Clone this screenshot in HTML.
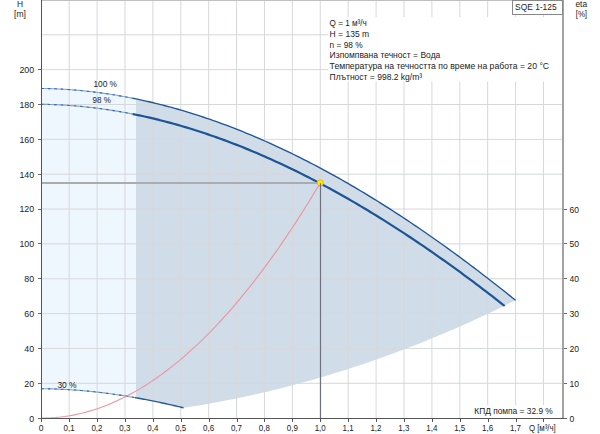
<!DOCTYPE html>
<html><head><meta charset="utf-8"><style>
html,body{margin:0;padding:0;background:#fff;width:600px;height:434px;overflow:hidden;font-family:"Liberation Sans",sans-serif;}
</style></head><body>
<svg width="600" height="434" viewBox="0 0 600 434" style="position:absolute;left:0;top:0">
<rect width="600" height="434" fill="#fff"/>
<path d="M41.28,88.44 L42.89,88.46 L44.49,88.49 L46.10,88.52 L47.70,88.56 L49.31,88.61 L50.91,88.66 L52.52,88.71 L54.12,88.77 L55.73,88.84 L57.33,88.91 L58.94,88.99 L60.55,89.07 L62.15,89.16 L63.76,89.25 L65.36,89.35 L66.97,89.45 L68.57,89.56 L70.18,89.68 L71.78,89.80 L73.39,89.92 L74.99,90.05 L76.60,90.19 L78.20,90.33 L79.81,90.48 L81.42,90.63 L83.02,90.79 L84.63,90.95 L86.23,91.12 L87.84,91.29 L89.44,91.47 L91.05,91.65 L92.65,91.84 L94.26,92.04 L95.86,92.24 L97.47,92.44 L99.08,92.65 L100.68,92.87 L102.29,93.09 L103.89,93.31 L105.50,93.55 L107.10,93.78 L108.71,94.02 L110.31,94.27 L111.92,94.52 L113.52,94.78 L115.13,95.04 L116.73,95.31 L118.34,95.58 L119.95,95.86 L121.55,96.14 L123.16,96.43 L124.76,96.72 L126.37,97.02 L127.97,97.32 L129.58,97.63 L131.18,97.94 L132.79,98.26 L134.39,98.58 L136.00,98.91 L136.00,397.78 L134.39,397.49 L132.79,397.21 L131.18,396.94 L129.58,396.67 L127.97,396.40 L126.37,396.14 L124.76,395.88 L123.16,395.63 L121.55,395.38 L119.95,395.13 L118.34,394.89 L116.73,394.65 L115.13,394.42 L113.52,394.19 L111.92,393.96 L110.31,393.74 L108.71,393.53 L107.10,393.32 L105.50,393.11 L103.89,392.91 L102.29,392.71 L100.68,392.51 L99.08,392.32 L97.47,392.14 L95.86,391.96 L94.26,391.78 L92.65,391.61 L91.05,391.45 L89.44,391.29 L87.84,391.13 L86.23,390.98 L84.63,390.83 L83.02,390.69 L81.42,390.55 L79.81,390.42 L78.20,390.29 L76.60,390.16 L74.99,390.05 L73.39,389.93 L71.78,389.82 L70.18,389.72 L68.57,389.62 L66.97,389.53 L65.36,389.44 L63.76,389.36 L62.15,389.28 L60.55,389.21 L58.94,389.14 L57.33,389.08 L55.73,389.02 L54.12,388.97 L52.52,388.92 L50.91,388.88 L49.31,388.85 L47.70,388.82 L46.10,388.79 L44.49,388.77 L42.89,388.76 L41.28,388.75 Z" fill="#eef6fe"/>
<path d="M136.00,98.91 L142.43,100.28 L148.87,101.73 L155.30,103.25 L161.73,104.86 L168.17,106.54 L174.60,108.31 L181.03,110.15 L187.47,112.07 L193.90,114.06 L200.34,116.13 L206.77,118.28 L213.20,120.50 L219.64,122.80 L226.07,125.17 L232.50,127.62 L238.94,130.14 L245.37,132.73 L251.80,135.39 L258.24,138.13 L264.67,140.93 L271.10,143.81 L277.54,146.76 L283.97,149.77 L290.41,152.86 L296.84,156.01 L303.27,159.23 L309.71,162.52 L316.14,165.88 L322.57,169.30 L329.01,172.79 L335.44,176.34 L341.87,179.96 L348.31,183.65 L354.74,187.39 L361.17,191.21 L367.61,195.08 L374.04,199.01 L380.48,203.01 L386.91,207.07 L393.34,211.19 L399.78,215.37 L406.21,219.61 L412.64,223.91 L419.08,228.27 L425.51,232.68 L431.94,237.15 L438.38,241.68 L444.81,246.27 L451.24,250.91 L457.68,255.61 L464.11,260.37 L470.55,265.18 L476.98,270.04 L483.41,274.95 L489.85,279.92 L496.28,284.94 L502.71,290.02 L509.15,295.14 L515.58,300.32 L515.58,300.32 L509.95,303.10 L504.33,305.86 L498.70,308.58 L493.07,311.26 L487.44,313.92 L481.82,316.54 L476.19,319.12 L470.56,321.68 L464.93,324.20 L459.31,326.69 L453.68,329.14 L448.05,331.56 L442.43,333.95 L436.80,336.30 L431.17,338.62 L425.54,340.91 L419.92,343.16 L414.29,345.39 L408.66,347.57 L403.03,349.73 L397.41,351.85 L391.78,353.94 L386.15,355.99 L380.53,358.01 L374.90,360.00 L369.27,361.96 L363.64,363.88 L358.02,365.77 L352.39,367.62 L346.76,369.45 L341.13,371.23 L335.51,372.99 L329.88,374.71 L324.25,376.40 L318.62,378.06 L313.00,379.68 L307.37,381.27 L301.74,382.82 L296.12,384.35 L290.49,385.84 L284.86,387.29 L279.23,388.72 L273.61,390.11 L267.98,391.46 L262.35,392.79 L256.72,394.08 L251.10,395.33 L245.47,396.56 L239.84,397.75 L234.22,398.90 L228.59,400.03 L222.96,401.12 L217.33,402.17 L211.71,403.20 L206.08,404.19 L200.45,405.15 L194.82,406.07 L189.20,406.96 L183.57,407.82 L183.57,407.82 L182.76,407.62 L181.96,407.43 L181.15,407.23 L180.34,407.04 L179.54,406.85 L178.73,406.66 L177.93,406.47 L177.12,406.28 L176.31,406.09 L175.51,405.90 L174.70,405.72 L173.89,405.53 L173.09,405.34 L172.28,405.16 L171.48,404.98 L170.67,404.79 L169.86,404.61 L169.06,404.43 L168.25,404.25 L167.44,404.07 L166.64,403.89 L165.83,403.71 L165.03,403.54 L164.22,403.36 L163.41,403.19 L162.61,403.01 L161.80,402.84 L160.99,402.67 L160.19,402.49 L159.38,402.32 L158.58,402.15 L157.77,401.98 L156.96,401.82 L156.16,401.65 L155.35,401.48 L154.54,401.32 L153.74,401.15 L152.93,400.99 L152.13,400.83 L151.32,400.67 L150.51,400.51 L149.71,400.35 L148.90,400.19 L148.09,400.03 L147.29,399.87 L146.48,399.72 L145.68,399.56 L144.87,399.41 L144.06,399.25 L143.26,399.10 L142.45,398.95 L141.64,398.80 L140.84,398.65 L140.03,398.50 L139.23,398.36 L138.42,398.21 L137.61,398.06 L136.81,397.92 L136.00,397.78 Z" fill="#d0dce8"/>
<g stroke="#d7d8db" stroke-width="1"><line x1="69.18" y1="1" x2="69.18" y2="418" /><line x1="97.08" y1="1" x2="97.08" y2="418" /><line x1="124.98" y1="1" x2="124.98" y2="418" /><line x1="152.88" y1="1" x2="152.88" y2="418" /><line x1="180.78" y1="1" x2="180.78" y2="418" /><line x1="208.68" y1="1" x2="208.68" y2="418" /><line x1="236.58" y1="1" x2="236.58" y2="418" /><line x1="264.48" y1="1" x2="264.48" y2="418" /><line x1="292.38" y1="1" x2="292.38" y2="418" /><line x1="320.28" y1="1" x2="320.28" y2="418" /><line x1="348.18" y1="1" x2="348.18" y2="418" /><line x1="376.08" y1="1" x2="376.08" y2="418" /><line x1="403.98" y1="1" x2="403.98" y2="418" /><line x1="431.88" y1="1" x2="431.88" y2="418" /><line x1="459.78" y1="1" x2="459.78" y2="418" /><line x1="487.68" y1="1" x2="487.68" y2="418" /><line x1="515.58" y1="1" x2="515.58" y2="418" /><line x1="543.48" y1="1" x2="543.48" y2="418" /><line x1="42" y1="383.30" x2="562" y2="383.30" /><line x1="42" y1="348.45" x2="562" y2="348.45" /><line x1="42" y1="313.60" x2="562" y2="313.60" /><line x1="42" y1="278.75" x2="562" y2="278.75" /><line x1="42" y1="243.90" x2="562" y2="243.90" /><line x1="42" y1="209.05" x2="562" y2="209.05" /><line x1="42" y1="174.20" x2="562" y2="174.20" /><line x1="42" y1="139.35" x2="562" y2="139.35" /><line x1="42" y1="104.50" x2="562" y2="104.50" /><line x1="42" y1="69.65" x2="562" y2="69.65" /><line x1="42" y1="34.80" x2="562" y2="34.80" /><line x1="42" y1="-0.05" x2="562" y2="-0.05" /></g>
<path d="M41.28,88.44 L42.85,88.46 L44.43,88.49 L46.00,88.52 L47.57,88.56 L49.15,88.60 L50.72,88.65 L52.29,88.70 L53.87,88.76 L55.44,88.82 L57.01,88.89 L58.59,88.97 L60.16,89.05 L61.74,89.13 L63.31,89.22 L64.88,89.32 L66.46,89.42 L68.03,89.52 L69.60,89.63 L71.18,89.75 L72.75,89.87 L74.32,90.00 L75.90,90.13 L77.47,90.26 L79.04,90.41 L80.62,90.55 L82.19,90.70 L83.76,90.86 L85.34,91.02 L86.91,91.19 L88.48,91.36 L90.06,91.54 L91.63,91.72 L93.21,91.91 L94.78,92.10 L96.35,92.30 L97.93,92.50 L99.50,92.71 L101.07,92.92 L102.65,93.14 L104.22,93.36 L105.79,93.59 L107.37,93.82 L108.94,94.06 L110.51,94.30 L112.09,94.55 L113.66,94.80 L115.23,95.06 L116.81,95.32 L118.38,95.59 L119.95,95.86 L121.53,96.14 L123.10,96.42 L124.68,96.70 L126.25,97.00 L127.82,97.29 L129.40,97.59 L130.97,97.90 L132.54,98.21 L134.12,98.53" fill="none" stroke="#85a4ce" stroke-width="1.1"/>
<path d="M41.28,88.44 L42.85,88.46 L44.43,88.49 L46.00,88.52 L47.57,88.56 L49.15,88.60 L50.72,88.65 L52.29,88.70 L53.87,88.76 L55.44,88.82 L57.01,88.89 L58.59,88.97 L60.16,89.05 L61.74,89.13 L63.31,89.22 L64.88,89.32 L66.46,89.42 L68.03,89.52 L69.60,89.63 L71.18,89.75 L72.75,89.87 L74.32,90.00 L75.90,90.13 L77.47,90.26 L79.04,90.41 L80.62,90.55 L82.19,90.70 L83.76,90.86 L85.34,91.02 L86.91,91.19 L88.48,91.36 L90.06,91.54 L91.63,91.72 L93.21,91.91 L94.78,92.10 L96.35,92.30 L97.93,92.50 L99.50,92.71 L101.07,92.92 L102.65,93.14 L104.22,93.36 L105.79,93.59 L107.37,93.82 L108.94,94.06 L110.51,94.30 L112.09,94.55 L113.66,94.80 L115.23,95.06 L116.81,95.32 L118.38,95.59 L119.95,95.86 L121.53,96.14 L123.10,96.42 L124.68,96.70 L126.25,97.00 L127.82,97.29 L129.40,97.59 L130.97,97.90 L132.54,98.21 L134.12,98.53" fill="none" stroke="#3a69a6" stroke-width="1.1" stroke-dasharray="2.5 4"/>
<path d="M41.28,104.28 L42.85,104.30 L44.43,104.33 L46.00,104.36 L47.57,104.40 L49.15,104.44 L50.72,104.49 L52.29,104.54 L53.87,104.60 L55.44,104.66 L57.01,104.73 L58.59,104.80 L60.16,104.88 L61.74,104.97 L63.31,105.05 L64.88,105.15 L66.46,105.25 L68.03,105.35 L69.60,105.46 L71.18,105.58 L72.75,105.70 L74.32,105.82 L75.90,105.95 L77.47,106.09 L79.04,106.23 L80.62,106.38 L82.19,106.53 L83.76,106.68 L85.34,106.84 L86.91,107.01 L88.48,107.18 L90.06,107.36 L91.63,107.54 L93.21,107.72 L94.78,107.92 L96.35,108.11 L97.93,108.31 L99.50,108.52 L101.07,108.73 L102.65,108.95 L104.22,109.17 L105.79,109.40 L107.37,109.63 L108.94,109.86 L110.51,110.10 L112.09,110.35 L113.66,110.60 L115.23,110.86 L116.81,111.12 L118.38,111.38 L119.95,111.65 L121.53,111.93 L123.10,112.21 L124.68,112.50 L126.25,112.79 L127.82,113.08 L129.40,113.38 L130.97,113.69 L132.54,114.00 L134.12,114.31" fill="none" stroke="#85a4ce" stroke-width="1.1"/>
<path d="M41.28,104.28 L42.85,104.30 L44.43,104.33 L46.00,104.36 L47.57,104.40 L49.15,104.44 L50.72,104.49 L52.29,104.54 L53.87,104.60 L55.44,104.66 L57.01,104.73 L58.59,104.80 L60.16,104.88 L61.74,104.97 L63.31,105.05 L64.88,105.15 L66.46,105.25 L68.03,105.35 L69.60,105.46 L71.18,105.58 L72.75,105.70 L74.32,105.82 L75.90,105.95 L77.47,106.09 L79.04,106.23 L80.62,106.38 L82.19,106.53 L83.76,106.68 L85.34,106.84 L86.91,107.01 L88.48,107.18 L90.06,107.36 L91.63,107.54 L93.21,107.72 L94.78,107.92 L96.35,108.11 L97.93,108.31 L99.50,108.52 L101.07,108.73 L102.65,108.95 L104.22,109.17 L105.79,109.40 L107.37,109.63 L108.94,109.86 L110.51,110.10 L112.09,110.35 L113.66,110.60 L115.23,110.86 L116.81,111.12 L118.38,111.38 L119.95,111.65 L121.53,111.93 L123.10,112.21 L124.68,112.50 L126.25,112.79 L127.82,113.08 L129.40,113.38 L130.97,113.69 L132.54,114.00 L134.12,114.31" fill="none" stroke="#3a69a6" stroke-width="1.1" stroke-dasharray="2.5 4"/>
<path d="M41.28,388.75 L42.89,388.76 L44.49,388.77 L46.10,388.79 L47.71,388.82 L49.32,388.85 L50.92,388.88 L52.53,388.92 L54.14,388.97 L55.75,389.02 L57.35,389.08 L58.96,389.14 L60.57,389.21 L62.18,389.28 L63.78,389.36 L65.39,389.44 L67.00,389.53 L68.61,389.63 L70.21,389.72 L71.82,389.83 L73.43,389.94 L75.04,390.05 L76.64,390.17 L78.25,390.29 L79.86,390.42 L81.46,390.55 L83.07,390.69 L84.68,390.83 L86.29,390.98 L87.89,391.13 L89.50,391.29 L91.11,391.45 L92.72,391.62 L94.32,391.79 L95.93,391.97 L97.54,392.15 L99.15,392.33 L100.75,392.52 L102.36,392.72 L103.97,392.92 L105.58,393.12 L107.18,393.33 L108.79,393.54 L110.40,393.76 L112.01,393.98 L113.61,394.20 L115.22,394.43 L116.83,394.67 L118.43,394.90 L120.04,395.15 L121.65,395.39 L123.26,395.64 L124.86,395.90 L126.47,396.16 L128.08,396.42 L129.69,396.69 L131.29,396.96 L132.90,397.23 L134.51,397.51 L136.12,397.80" fill="none" stroke="#85a4ce" stroke-width="1.1"/>
<path d="M41.28,388.75 L42.89,388.76 L44.49,388.77 L46.10,388.79 L47.71,388.82 L49.32,388.85 L50.92,388.88 L52.53,388.92 L54.14,388.97 L55.75,389.02 L57.35,389.08 L58.96,389.14 L60.57,389.21 L62.18,389.28 L63.78,389.36 L65.39,389.44 L67.00,389.53 L68.61,389.63 L70.21,389.72 L71.82,389.83 L73.43,389.94 L75.04,390.05 L76.64,390.17 L78.25,390.29 L79.86,390.42 L81.46,390.55 L83.07,390.69 L84.68,390.83 L86.29,390.98 L87.89,391.13 L89.50,391.29 L91.11,391.45 L92.72,391.62 L94.32,391.79 L95.93,391.97 L97.54,392.15 L99.15,392.33 L100.75,392.52 L102.36,392.72 L103.97,392.92 L105.58,393.12 L107.18,393.33 L108.79,393.54 L110.40,393.76 L112.01,393.98 L113.61,394.20 L115.22,394.43 L116.83,394.67 L118.43,394.90 L120.04,395.15 L121.65,395.39 L123.26,395.64 L124.86,395.90 L126.47,396.16 L128.08,396.42 L129.69,396.69 L131.29,396.96 L132.90,397.23 L134.51,397.51 L136.12,397.80" fill="none" stroke="#3a69a6" stroke-width="1.1" stroke-dasharray="2.5 4"/>
<path d="M133.00,98.30 L136.21,98.96 L139.43,99.63 L142.64,100.33 L145.86,101.04 L149.07,101.77 L152.29,102.53 L155.50,103.30 L158.72,104.10 L161.93,104.91 L165.15,105.74 L168.36,106.60 L171.58,107.47 L174.79,108.36 L178.01,109.27 L181.22,110.20 L184.44,111.15 L187.65,112.12 L190.87,113.11 L194.08,114.12 L197.30,115.15 L200.51,116.19 L203.73,117.26 L206.94,118.34 L210.16,119.44 L213.37,120.56 L216.59,121.70 L219.80,122.86 L223.02,124.04 L226.23,125.24 L229.45,126.45 L232.66,127.68 L235.88,128.93 L239.09,130.20 L242.31,131.49 L245.52,132.79 L248.74,134.11 L251.95,135.45 L255.17,136.81 L258.38,138.19 L261.60,139.58 L264.81,141.00 L268.03,142.43 L271.24,143.87 L274.46,145.34 L277.67,146.82 L280.89,148.32 L284.10,149.83 L287.32,151.37 L290.53,152.92 L293.75,154.49 L296.96,156.07 L300.18,157.68 L303.39,159.29 L306.61,160.93 L309.82,162.58 L313.04,164.25 L316.25,165.94 L319.47,167.64 L322.68,169.36 L325.90,171.10 L329.11,172.85 L332.33,174.62 L335.54,176.40 L338.76,178.20 L341.97,180.02 L345.19,181.85 L348.40,183.70 L351.62,185.57 L354.83,187.45 L358.05,189.34 L361.26,191.26 L364.48,193.19 L367.69,195.13 L370.91,197.09 L374.12,199.06 L377.34,201.05 L380.55,203.06 L383.77,205.08 L386.98,207.12 L390.20,209.17 L393.41,211.23 L396.63,213.32 L399.84,215.41 L403.06,217.52 L406.27,219.65 L409.49,221.79 L412.70,223.95 L415.92,226.12 L419.13,228.30 L422.35,230.50 L425.56,232.72 L428.78,234.94 L431.99,237.19 L435.21,239.44 L438.42,241.72 L441.64,244.00 L444.85,246.30 L448.07,248.61 L451.28,250.94 L454.50,253.28 L457.71,255.64 L460.93,258.01 L464.14,260.39 L467.36,262.78 L470.57,265.19 L473.79,267.62 L477.00,270.05 L480.22,272.50 L483.43,274.97 L486.65,277.44 L489.86,279.93 L493.08,282.44 L496.29,284.95 L499.51,287.48 L502.72,290.02 L505.94,292.58 L509.15,295.14 L512.37,297.72 L515.58,300.32" fill="none" stroke="#1f5593" stroke-width="1.35"/>
<path d="M133.00,114.09 L136.12,114.72 L139.25,115.37 L142.37,116.04 L145.49,116.73 L148.62,117.43 L151.74,118.16 L154.86,118.91 L157.99,119.67 L161.11,120.45 L164.23,121.25 L167.36,122.07 L170.48,122.91 L173.60,123.76 L176.73,124.64 L179.85,125.53 L182.97,126.44 L186.10,127.37 L189.22,128.31 L192.34,129.28 L195.47,130.26 L198.59,131.26 L201.71,132.28 L204.84,133.31 L207.96,134.37 L211.08,135.44 L214.21,136.53 L217.33,137.63 L220.45,138.75 L223.58,139.89 L226.70,141.05 L229.82,142.23 L232.95,143.42 L236.07,144.63 L239.19,145.85 L242.32,147.10 L245.44,148.36 L248.56,149.64 L251.68,150.93 L254.81,152.24 L257.93,153.57 L261.05,154.91 L264.18,156.27 L267.30,157.65 L270.42,159.04 L273.55,160.45 L276.67,161.88 L279.79,163.32 L282.92,164.78 L286.04,166.25 L289.16,167.74 L292.29,169.25 L295.41,170.77 L298.53,172.31 L301.66,173.87 L304.78,175.44 L307.90,177.02 L311.03,178.63 L314.15,180.24 L317.27,181.88 L320.40,183.52 L323.52,185.19 L326.64,186.87 L329.77,188.56 L332.89,190.27 L336.01,192.00 L339.14,193.73 L342.26,195.49 L345.38,197.26 L348.51,199.04 L351.63,200.84 L354.75,202.66 L357.88,204.49 L361.00,206.33 L364.12,208.19 L367.25,210.06 L370.37,211.95 L373.49,213.85 L376.62,215.77 L379.74,217.70 L382.86,219.65 L385.99,221.61 L389.11,223.58 L392.23,225.57 L395.36,227.57 L398.48,229.58 L401.60,231.61 L404.73,233.66 L407.85,235.71 L410.97,237.78 L414.10,239.87 L417.22,241.97 L420.34,244.08 L423.47,246.20 L426.59,248.34 L429.71,250.49 L432.84,252.66 L435.96,254.84 L439.08,257.03 L442.21,259.23 L445.33,261.45 L448.45,263.68 L451.58,265.93 L454.70,268.18 L457.82,270.45 L460.95,272.73 L464.07,275.03 L467.19,277.34 L470.31,279.66 L473.44,281.99 L476.56,284.33 L479.68,286.69 L482.81,289.06 L485.93,291.44 L489.05,293.84 L492.18,296.24 L495.30,298.66 L498.42,301.09 L501.55,303.53 L504.67,305.99" fill="none" stroke="#1c5596" stroke-width="2.2"/>
<path d="M135.00,397.60 L136.25,397.82 L137.49,398.04 L138.74,398.27 L139.98,398.49 L141.23,398.72 L142.47,398.95 L143.72,399.19 L144.96,399.42 L146.21,399.66 L147.45,399.90 L148.70,400.15 L149.94,400.39 L151.19,400.64 L152.44,400.89 L153.68,401.14 L154.93,401.40 L156.17,401.65 L157.42,401.91 L158.66,402.17 L159.91,402.43 L161.15,402.70 L162.40,402.97 L163.64,403.24 L164.89,403.51 L166.13,403.78 L167.38,404.06 L168.63,404.33 L169.87,404.61 L171.12,404.89 L172.36,405.18 L173.61,405.46 L174.85,405.75 L176.10,406.04 L177.34,406.33 L178.59,406.63 L179.83,406.92 L181.08,407.22 L182.32,407.52 L183.57,407.82" fill="none" stroke="#255a98" stroke-width="1.4"/>
<line x1="42" y1="183" x2="320.28" y2="183" stroke="#aaacb0" stroke-width="2"/>
<path d="M41.28,418.15 L46.01,418.08 L50.74,417.88 L55.47,417.54 L60.20,417.07 L64.92,416.46 L69.65,415.72 L74.38,414.84 L79.11,413.83 L83.84,412.68 L88.57,411.39 L93.30,409.97 L98.03,408.42 L102.75,406.73 L107.48,404.90 L112.21,402.95 L116.94,400.85 L121.67,398.62 L126.40,396.25 L131.13,393.75 L135.86,391.12 L140.59,388.35 L145.31,385.44 L150.04,382.40 L154.77,379.23 L159.50,375.91 L164.23,372.47 L168.96,368.89 L173.69,365.17 L178.42,361.32 L183.14,357.33 L187.87,353.21 L192.60,348.95 L197.33,344.56 L202.06,340.03 L206.79,335.37 L211.52,330.57 L216.25,325.64 L220.97,320.57 L225.70,315.36 L230.43,310.03 L235.16,304.55 L239.89,298.94 L244.62,293.20 L249.35,287.32 L254.08,281.31 L258.81,275.16 L263.53,268.87 L268.26,262.45 L272.99,255.90 L277.72,249.21 L282.45,242.38 L287.18,235.42 L291.91,228.32 L296.64,221.09 L301.36,213.73 L306.09,206.23 L310.82,198.59 L315.55,190.82 L320.28,182.91" fill="none" stroke="#ec949c" stroke-width="1.1"/>
<circle cx="320.28" cy="182.91" r="3.1" fill="#ffec00" stroke="#f0a020" stroke-width="0.8"/>
<line x1="320.5" y1="183.21" x2="320.5" y2="418" stroke="#6e7180" stroke-width="1.2"/>
<g shape-rendering="crispEdges">
<line x1="41" y1="0.5" x2="563" y2="0.5" stroke="#c0c0c0"/>
<line x1="41.5" y1="0" x2="41.5" y2="422" stroke="#555"/>
<line x1="563" y1="0" x2="563" y2="419" stroke="#a2a2a2" stroke-width="2"/>
<line x1="38" y1="418.5" x2="566" y2="418.5" stroke="#555"/>
<line x1="38" y1="418.5" x2="41" y2="418.5" stroke="#6a6a6a"/>
<line x1="38" y1="383.5" x2="41" y2="383.5" stroke="#6a6a6a"/>
<line x1="38" y1="348.5" x2="41" y2="348.5" stroke="#6a6a6a"/>
<line x1="38" y1="313.5" x2="41" y2="313.5" stroke="#6a6a6a"/>
<line x1="38" y1="278.5" x2="41" y2="278.5" stroke="#6a6a6a"/>
<line x1="38" y1="243.5" x2="41" y2="243.5" stroke="#6a6a6a"/>
<line x1="38" y1="209.5" x2="41" y2="209.5" stroke="#6a6a6a"/>
<line x1="38" y1="174.5" x2="41" y2="174.5" stroke="#6a6a6a"/>
<line x1="38" y1="139.5" x2="41" y2="139.5" stroke="#6a6a6a"/>
<line x1="38" y1="104.5" x2="41" y2="104.5" stroke="#6a6a6a"/>
<line x1="38" y1="69.5" x2="41" y2="69.5" stroke="#6a6a6a"/>
<line x1="564" y1="418.5" x2="567" y2="418.5" stroke="#666"/>
<line x1="564" y1="383.5" x2="567" y2="383.5" stroke="#666"/>
<line x1="564" y1="348.5" x2="567" y2="348.5" stroke="#666"/>
<line x1="564" y1="313.5" x2="567" y2="313.5" stroke="#666"/>
<line x1="564" y1="278.5" x2="567" y2="278.5" stroke="#666"/>
<line x1="564" y1="243.5" x2="567" y2="243.5" stroke="#666"/>
<line x1="564" y1="209.5" x2="567" y2="209.5" stroke="#666"/>
<line x1="41.5" y1="419" x2="41.5" y2="422" stroke="#555"/>
<line x1="69.5" y1="419" x2="69.5" y2="422" stroke="#555"/>
<line x1="97.5" y1="419" x2="97.5" y2="422" stroke="#555"/>
<line x1="125.5" y1="419" x2="125.5" y2="422" stroke="#555"/>
<line x1="153.5" y1="419" x2="153.5" y2="422" stroke="#555"/>
<line x1="181.5" y1="419" x2="181.5" y2="422" stroke="#555"/>
<line x1="209.5" y1="419" x2="209.5" y2="422" stroke="#555"/>
<line x1="237.5" y1="419" x2="237.5" y2="422" stroke="#555"/>
<line x1="264.5" y1="419" x2="264.5" y2="422" stroke="#555"/>
<line x1="292.5" y1="419" x2="292.5" y2="422" stroke="#555"/>
<line x1="320.5" y1="419" x2="320.5" y2="422" stroke="#555"/>
<line x1="348.5" y1="419" x2="348.5" y2="422" stroke="#555"/>
<line x1="376.5" y1="419" x2="376.5" y2="422" stroke="#555"/>
<line x1="404.5" y1="419" x2="404.5" y2="422" stroke="#555"/>
<line x1="432.5" y1="419" x2="432.5" y2="422" stroke="#555"/>
<line x1="460.5" y1="419" x2="460.5" y2="422" stroke="#555"/>
<line x1="488.5" y1="419" x2="488.5" y2="422" stroke="#555"/>
<line x1="516.5" y1="419" x2="516.5" y2="422" stroke="#555"/>
<line x1="543.5" y1="419" x2="543.5" y2="422" stroke="#555"/>
</g>
<rect x="328" y="17" width="234" height="64.5" fill="#fff"/>
<rect x="470" y="405" width="88" height="13" fill="#fff"/>
<rect x="512.5" y="0.5" width="50" height="13.5" fill="#fff" stroke="#888" shape-rendering="crispEdges"/>
<g font-family="Liberation Sans, sans-serif" font-size="9.5" fill="#222"><text transform="translate(29.29,421.55) scale(0.9300,1)">0</text><text transform="translate(24.37,386.70) scale(0.9300,1)">20</text><text transform="translate(24.37,351.85) scale(0.9300,1)">40</text><text transform="translate(24.37,317.00) scale(0.9300,1)">60</text><text transform="translate(24.37,282.15) scale(0.9300,1)">80</text><text transform="translate(19.46,247.30) scale(0.9300,1)">100</text><text transform="translate(19.46,212.45) scale(0.9300,1)">120</text><text transform="translate(19.46,177.60) scale(0.9300,1)">140</text><text transform="translate(19.46,142.75) scale(0.9300,1)">160</text><text transform="translate(19.46,107.90) scale(0.9300,1)">180</text><text transform="translate(19.46,73.05) scale(0.9300,1)">200</text><text transform="translate(569.50,421.65) scale(0.9000,1)">0</text><text transform="translate(569.50,386.80) scale(0.9000,1)">10</text><text transform="translate(569.50,351.95) scale(0.9000,1)">20</text><text transform="translate(569.50,317.10) scale(0.9000,1)">30</text><text transform="translate(569.50,282.25) scale(0.9000,1)">40</text><text transform="translate(569.50,247.40) scale(0.9000,1)">50</text><text transform="translate(569.50,212.55) scale(0.9000,1)">60</text><text transform="translate(38.80,430.70) scale(0.9000,1)">0</text><text transform="translate(63.53,430.70) scale(0.8400,1)">0,1</text><text transform="translate(91.43,430.70) scale(0.8400,1)">0,2</text><text transform="translate(119.33,430.70) scale(0.8400,1)">0,3</text><text transform="translate(147.23,430.70) scale(0.8400,1)">0,4</text><text transform="translate(175.13,430.70) scale(0.8400,1)">0,5</text><text transform="translate(203.03,430.70) scale(0.8400,1)">0,6</text><text transform="translate(230.93,430.70) scale(0.8400,1)">0,7</text><text transform="translate(258.83,430.70) scale(0.8400,1)">0,8</text><text transform="translate(286.73,430.70) scale(0.8400,1)">0,9</text><text transform="translate(314.63,430.70) scale(0.8400,1)">1,0</text><text transform="translate(342.53,430.70) scale(0.8400,1)">1,1</text><text transform="translate(370.43,430.70) scale(0.8400,1)">1,2</text><text transform="translate(398.33,430.70) scale(0.8400,1)">1,3</text><text transform="translate(426.23,430.70) scale(0.8400,1)">1,4</text><text transform="translate(454.13,430.70) scale(0.8400,1)">1,5</text><text transform="translate(482.03,430.70) scale(0.8400,1)">1,6</text><text transform="translate(509.93,430.70) scale(0.8400,1)">1,7</text><text transform="translate(528.90,430.60) scale(0.8263,1)">Q [м³/ч]</text><text transform="translate(16.97,6.60) scale(0.8823,1)">H</text><text transform="translate(14.07,16.90) scale(0.8990,1)">[m]</text><text transform="translate(575.47,6.90) scale(0.8824,1)">eta</text><text transform="translate(575.73,16.90) scale(0.8255,1)">[%]</text><text transform="translate(515.10,9.90) scale(0.8841,1)">SQE 1-125</text><text transform="translate(329.60,25.95) scale(0.8554,1)">Q = 1 м³/ч</text><text transform="translate(329.60,36.77) scale(0.8972,1)">H = 135 m</text><text transform="translate(329.60,47.59) scale(0.8779,1)">n = 98 %</text><text transform="translate(329.60,58.41) scale(0.8974,1)">Изпомпвана течност = Вода</text><text transform="translate(329.60,69.23) scale(0.9130,1)">Температура на течността по време на работа = 20 °C</text><text transform="translate(329.60,80.05) scale(0.8962,1)">Плътност = 998.2 kg/m³</text><text transform="translate(474.30,414.20) scale(0.8815,1)">КПД помпа = 32.9 %</text><text transform="translate(93.40,86.90) scale(0.8780,1)">100 %</text><text transform="translate(92.60,102.80) scale(0.8422,1)">98 %</text><text transform="translate(57.40,387.90) scale(0.8893,1)">30 %</text></g>
</svg>
</body></html>
